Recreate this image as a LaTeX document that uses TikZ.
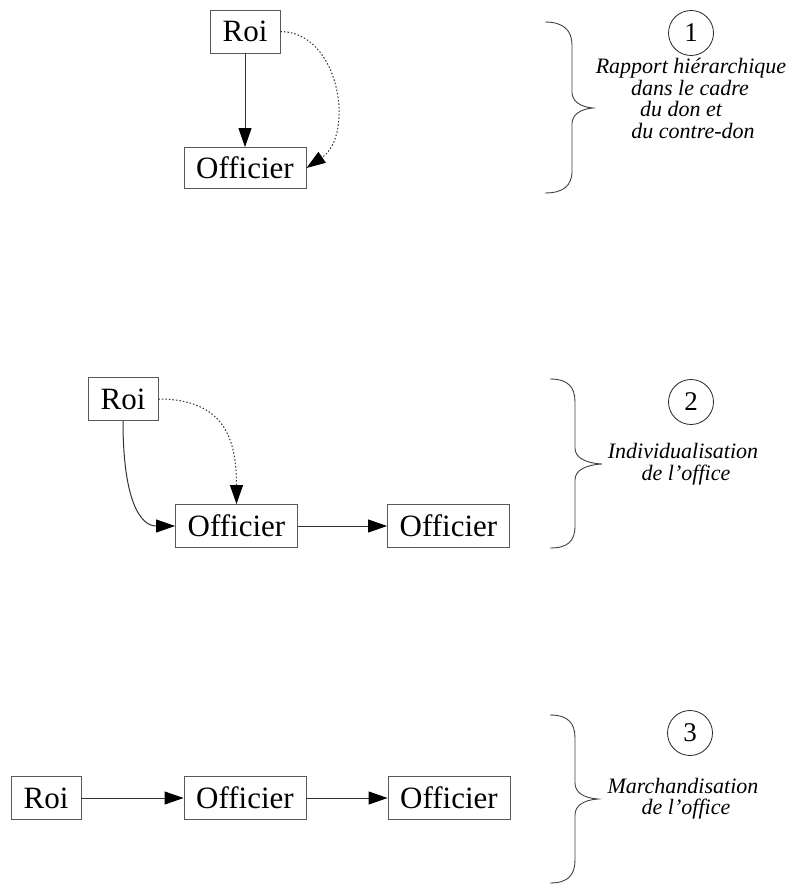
\documentclass[tikz,border=0pt]{standalone}
\usepackage{fontspec}
\setmainfont{Liberation Serif}
\usetikzlibrary{arrows.meta}
\begin{document}
\begin{tikzpicture}[x=1pt,y=-1pt,
  box/.style={draw=black!65, line width=0.9pt, inner sep=0pt, minimum height=43pt, font=\fontsize{31}{36}\selectfont},
  roibox/.style={box, minimum width=70pt},
  offbox/.style={box, minimum width=122pt},
  link/.style={draw=black!80, line width=1pt, -{Triangle[length=19pt,width=13pt,fill=black,color=black]}},
  dotlink/.style={link, dash pattern=on 1.5pt off 2pt},
  bracestyle/.style={draw=black!75, line width=0.9pt},
  num/.style={draw=black!85, circle, line width=0.8pt, minimum size=45pt, inner sep=0pt, font=\fontsize{27}{30}\selectfont},
  desc/.style={anchor=base, inner sep=0pt, font=\fontsize{22}{22}\selectfont\itshape}]
\useasboundingbox (0,0) rectangle (790,885);

% ---------- Panel 1 ----------
\node[roibox] (roiA) at (245,31.5) {Roi};
\node[offbox, minimum height=41pt] (offA) at (245,168) {Officier};
\draw[link] (roiA.south) -- (offA.north);
\draw[dotlink] (roiA.east) .. controls (340,32) and (355,135) .. (offA.east);

\draw[bracestyle] (545,22) .. controls (563,22) and (572,30) .. (572,45) -- (572,92)
  .. controls (572,101) and (580,107) .. (593,108)
  .. controls (580,109) and (572,115) .. (572,124) -- (572,171)
  .. controls (572,186) and (563,193) .. (545,193);
\node[num] (n1) at (691,33) {1};
\node[desc] (t1a) at (691,74) {Rapport hiérarchique};
\node[desc] (t1b) at (690,95.5) {dans le cadre};
\node[desc] (t1c) at (681,117) {du don et};
\node[desc] (t1d) at (693,138.5) {du contre-don};

% ---------- Panel 2 ----------
\node[roibox] (roiB) at (123,399) {Roi};
\node[offbox] (offB) at (236.5,526) {Officier};
\node[offbox] (offC) at (448.5,526) {Officier};
\draw[dotlink] (roiB.east) .. controls (225,399) and (236.5,440) .. (offB.north);
\draw[link] (roiB.south) .. controls (123,500) and (140,526) .. (offB.west);
\draw[link] (offB.east) -- (offC.west);

\draw[bracestyle] (550,379) .. controls (568,379) and (575,387) .. (575,402) -- (575,448)
  .. controls (575,457) and (584,463) .. (602,464)
  .. controls (584,465) and (575,471) .. (575,480) -- (575,526)
  .. controls (575,541) and (568,548) .. (550,548);
\node[num] (n2) at (691,402) {2};
\node[desc] (t2a) at (683,458) {Individualisation};
\node[desc] (t2b) at (686,480) {de l’office};

% ---------- Panel 3 ----------
\node[roibox] (roiC) at (46,798) {Roi};
\node[offbox] (offD) at (245,798) {Officier};
\node[offbox] (offE) at (449,798) {Officier};
\draw[link] (roiC.east) -- (offD.west);
\draw[link] (offD.east) -- (offE.west);

\draw[bracestyle] (550,715) .. controls (568,715) and (575,723) .. (575,738) -- (575,783)
  .. controls (575,792) and (583,798) .. (598,799)
  .. controls (583,800) and (575,806) .. (575,815) -- (575,860)
  .. controls (575,875) and (568,883) .. (550,883);
\node[num] (n3) at (690,733) {3};
\node[desc] (t3a) at (683,793) {Marchandisation};
\node[desc] (t3b) at (686,814) {de l’office};
\end{tikzpicture}
\end{document}
